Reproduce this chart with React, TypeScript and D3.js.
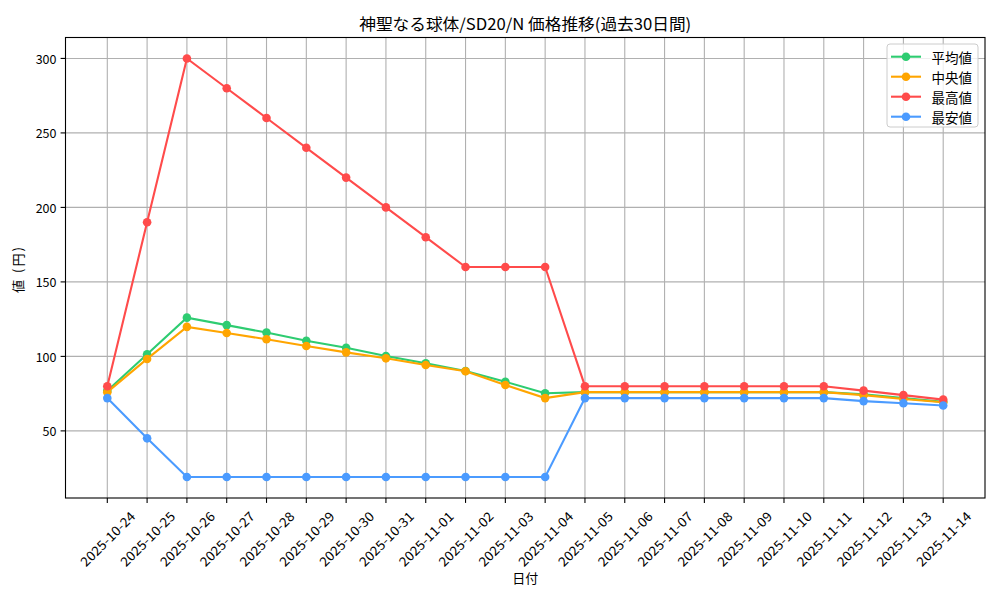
import React from "react";
import * as d3 from "d3";

const dates = [
  "2025-10-24", "2025-10-25", "2025-10-26", "2025-10-27", "2025-10-28", "2025-10-29",
  "2025-10-30", "2025-10-31", "2025-11-01", "2025-11-02", "2025-11-03", "2025-11-04",
  "2025-11-05", "2025-11-06", "2025-11-07", "2025-11-08", "2025-11-09", "2025-11-10",
  "2025-11-11", "2025-11-12", "2025-11-13", "2025-11-14",
];

const avgValues = [77, 101.4, 126, 121, 116, 110.5, 105.8, 100.3, 95.4, 90.2, 83, 75.3,
  76, 76, 76, 76, 76, 76, 76, 74.5, 72, 69.5];
const medianValues = [76, 98.3, 119.8, 115.7, 111.5, 107, 102.7, 98.7, 94.2, 90, 80.8, 72,
  76, 76, 76, 76, 76, 76, 76, 74, 71.4, 69.2];
const maxValues = [80, 190, 300, 280, 260, 240, 220, 200, 180, 160, 160, 160,
  80, 80, 80, 80, 80, 80, 80, 77, 74, 71];
const minValues = [72, 45, 19, 19, 19, 19, 19, 19, 19, 19, 19, 19,
  72, 72, 72, 72, 72, 72, 72, 70, 68.6, 67];

const seriesNames = ["平均値", "中央値", "最高値", "最安値"];
const seriesColors = ["#2ecc71", "#ffa500", "#ff4b4b", "#4b9bff"];
const yTicks = [50, 100, 150, 200, 250, 300];

const titleText = "神聖なる球体/SD20/N 価格推移(過去30日間)";
const xLabel = "日付";
const yLabel = "値 (円)";

const W = 1000;
const H = 600;
const left = 65.5;
const right = 985;
const top = 37.5;
const bottom = 498;
const FONT = "'Noto Sans CJK JP', 'Noto Sans', sans-serif";

export default function App() {
  const series = [avgValues, medianValues, maxValues, minValues];
  const all = series.flat();
  const lo = d3.min(all) as number;
  const hi = d3.max(all) as number;
  const pad = (hi - lo) * 0.05;
  const y = d3.scaleLinear().domain([lo - pad, hi + pad]).range([bottom, top]);
  const x = d3.scalePoint<string>().domain(dates).range([left, right]).padding(1.05);
  const line = d3
    .line<number>()
    .x((_, i) => x(dates[i]) as number)
    .y((d) => y(d));

  const legendX = 887;
  const legendY = 44;

  return (
    <svg
      width={W}
      height={H}
      style={{ position: "fixed", left: 0, top: 0, background: "#fff" }}
      fontFamily={FONT}
    >
      <rect x={0} y={0} width={W} height={H} fill="#fff" />
      <g stroke="#b0b0b0" strokeWidth={1.1}>
        {dates.map((d) => (
          <line key={d} x1={x(d)} x2={x(d)} y1={top} y2={bottom} />
        ))}
        {yTicks.map((t) => (
          <line key={t} x1={left} x2={right} y1={y(t)} y2={y(t)} />
        ))}
      </g>
      {series.map((vals, si) => (
        <g key={si}>
          <path d={line(vals) || ""} fill="none" stroke={seriesColors[si]} strokeWidth={2.1} />
          {vals.map((v, i) => (
            <circle key={i} cx={x(dates[i])} cy={y(v)} r={4.3} fill={seriesColors[si]} />
          ))}
        </g>
      ))}
      <rect x={left} y={top} width={right - left} height={bottom - top} fill="none" stroke="#000" strokeWidth={1.1} />
      {yTicks.map((t) => (
        <g key={t}>
          <line x1={left - 4.9} x2={left} y1={y(t)} y2={y(t)} stroke="#000" strokeWidth={1.1} />
          <text x={left - 9} y={y(t)} textAnchor="end" dominantBaseline="central" fontSize={12.5} fill="#000">
            {t}
          </text>
        </g>
      ))}
      {dates.map((d) => (
        <g key={d}>
          <line x1={x(d)} x2={x(d)} y1={bottom} y2={bottom + 4.9} stroke="#000" strokeWidth={1.1} />
          <text
            transform={`translate(${x(d)},${538.5}) rotate(-45)`}
            textAnchor="middle"
            dominantBaseline="central"
            fontSize={13}
            textLength={71}
            lengthAdjust="spacingAndGlyphs"
            fill="#000"
          >
            {d}
          </text>
        </g>
      ))}
      <text x={(left + right) / 2} y={30} textAnchor="middle" fontSize={16} textLength={332} lengthAdjust="spacingAndGlyphs" fill="#000">
        {titleText}
      </text>
      <text x={(left + right) / 2} y={583} textAnchor="middle" fontSize={13} fill="#000">
        {xLabel}
      </text>
      <text transform={`translate(23,${270}) rotate(-90)`} textAnchor="middle" fontSize={13} textLength={46} lengthAdjust="spacing" fill="#000">
        {yLabel}
      </text>
      <rect x={legendX} y={legendY} width={91} height={83} rx={3} fill="#fff" fillOpacity={0.8} stroke="#cccccc" strokeWidth={1} />
      {seriesNames.map((name, i) => {
        const ly = legendY + 12.7 + i * 20;
        return (
          <g key={name}>
            <line x1={891} x2={921} y1={ly} y2={ly} stroke={seriesColors[i]} strokeWidth={2.1} />
            <circle cx={906} cy={ly} r={4.3} fill={seriesColors[i]} />
            <text x={931.5} y={ly} dominantBaseline="central" fontSize={13.5} fill="#000">
              {name}
            </text>
          </g>
        );
      })}
    </svg>
  );
}
